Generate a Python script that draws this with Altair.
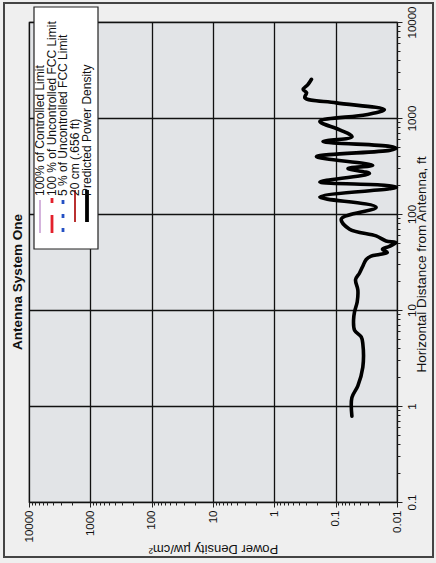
import altair as alt
import pandas as pd

# Predicted power density curve (distance in ft, power density in µW/cm²)
distance_ft = [0.785, 1.22, 1.62, 2.53, 4.46, 5.24, 6.16, 7.85, 9.6, 12.2, 16.2, 20.7,
               24.3, 28.6, 33.6, 36.4, 37.9, 39.8, 42.8, 46.0, 50.4, 52.4, 59.1, 69.5,
               88.6, 117.7, 150, 183, 190, 199.6, 216, 264, 298, 322, 395, 460, 483, 507,
               569, 638, 753, 922, 1083, 1222, 1438, 1624, 1835, 1985, 2223, 2530]
power_density = [0.0544, 0.0544, 0.0435, 0.0361, 0.0361, 0.0383, 0.0492, 0.0511, 0.0492,
                 0.0445, 0.0435, 0.0474, 0.0408, 0.0361, 0.0318, 0.0264, 0.0194, 0.0144,
                 0.0173, 0.0133, 0.0104, 0.0151, 0.0219, 0.0593, 0.0809, 0.0219, 0.181,
                 0.0133, 0.0102, 0.0161, 0.181, 0.0281, 0.063, 0.0249, 0.206, 0.0133,
                 0.0102, 0.0133, 0.161, 0.054, 0.086, 0.181, 0.0318, 0.0161, 0.0974,
                 0.318, 0.298, 0.339, 0.284, 0.248]

legend_labels = ["100% of Controlled Limit", "100 % of Uncontrolled FCC Limit",
                 "5 % of Uncontrolled FCC Limit", "20 cm (.656 ft)", "Predicted Power Density"]
pd_ticks = [m * 10.0 ** e for e in range(-2, 4) for m in range(1, 10)] + [10000]
dist_ticks = [m * 10.0 ** e for e in range(-1, 4) for m in range(1, 10)] + [10000]

df = pd.DataFrame({"dist": distance_ft, "pd": power_density, "i": range(len(distance_ft))})

DEC = "abs(log(datum.value)/LN10 - round(log(datum.value)/LN10)) < 0.001"
FONT = "Liberation Sans"

x_axis = alt.Axis(
    orient="bottom", values=pd_ticks,
    labelExpr=f"{DEC} ? format(datum.value, '~g') : ''",
    labelAngle=270, labelAlign="right", labelBaseline="middle", labelPadding=3,
    labelFontSize=11.5, labelFont=FONT, labelColor="#111", labelOverlap=False,
    tickColor="#222", tickSize={"condition": {"test": DEC, "value": 5}, "value": 3},
    gridColor="#111", gridWidth=1.3,
    gridOpacity={"condition": {"test": DEC, "value": 1}, "value": 0},
    domain=False,
    title="Power Density µw/cm²", titleAngle=180, titleFont=FONT, titleFontSize=13,
    titleFontWeight="normal", titleColor="#111", titleX=184, titleY=46,
    titleAlign="center", titleBaseline="middle",
)
y_axis = alt.Axis(
    orient="right", values=dist_ticks,
    labelExpr=f"{DEC} ? format(datum.value, '~g') : ''",
    labelAngle=270, labelAlign="center", labelBaseline="top", labelPadding=4,
    labelFontSize=11.5, labelFont=FONT, labelColor="#111", labelOverlap=False,
    tickColor="#222", tickSize={"condition": {"test": DEC, "value": 5}, "value": 3},
    gridColor="#111", gridWidth=1.3,
    gridOpacity={"condition": {"test": DEC, "value": 1}, "value": 0},
    domain=False,
    title="Horizontal Distance from Antenna, ft", titleAngle=270, titleFont=FONT,
    titleFontSize=13.5, titleFontWeight="normal", titleColor="#111",
    titleX=24, titleY=242, titleAlign="center", titleBaseline="middle",
)

line = alt.Chart(df).mark_line(
    color="black", strokeWidth=3.6, interpolate="catmull-rom", strokeCap="round", strokeJoin="round"
).encode(
    x=alt.X("pd:Q", scale=alt.Scale(type="log", domain=[0.01, 10000], reverse=True), axis=x_axis),
    y=alt.Y("dist:Q", scale=alt.Scale(type="log", domain=[0.1, 10000]), axis=y_axis),
    order="i:Q",
)

one = pd.DataFrame({"a": [0]})

# legend box
legend_box = alt.Chart(one).mark_rect(fill="white", stroke="#222", strokeWidth=1.2).encode(
    x=alt.value(5), x2=alt.value(69), y=alt.value(-15), y2=alt.value(227)
)

sym_styles = [
    dict(color="#c9a0d4", strokeWidth=1.6),
    dict(color="#e3202b", strokeWidth=2.8, strokeDash=[5, 12, 20, 2]),
    dict(color="#2450c4", strokeWidth=2.8, strokeDash=[4, 10]),
    dict(color="#b21a1a", strokeWidth=1.8),
    dict(color="black", strokeWidth=3.8),
]
row_x = [11, 23, 34, 46, 58]
sym_y = [(178, 211), (176, 211), (178, 211), (168, 200), (168, 200)]
layers = [line, legend_box]
for lab, sx, st, (ya, yb) in zip(legend_labels, row_x, sym_styles, sym_y):
    layers.append(alt.Chart(one).mark_rule(**st).encode(
        x=alt.value(sx), y=alt.value(ya), y2=alt.value(yb)))
    layers.append(alt.Chart(one).mark_text(
        angle=270, align="left", baseline="middle", fontSize=12, font=FONT, color="#111"
    ).encode(x=alt.value(sx), y=alt.value(174), text=alt.value(lab)))

title = alt.Chart(one).mark_text(
    angle=270, align="center", baseline="middle", fontSize=13.5, fontWeight="bold", font=FONT, color="#111"
).encode(x=alt.value(-11), y=alt.value(260), text=alt.value("Antenna System One"))

border = alt.Chart(one).mark_rect(fill=None, stroke="#444", strokeWidth=2).encode(
    x=alt.value(-25), x2=alt.value(404), y=alt.value(-19), y2=alt.value(535)
)
layers = [border] + layers + [title]

chart = alt.layer(*layers).properties(
    width=368, height=480,
    autosize=alt.AutoSizeParams(type="none"),
    padding={"left": 29, "top": 22, "right": 39, "bottom": 61},
    background="#efefef",
).configure_view(fill="#e2e4e7", stroke="#222", strokeWidth=1.2)

chart.save("out.html", embed_options={"renderer": "svg", "actions": False})
